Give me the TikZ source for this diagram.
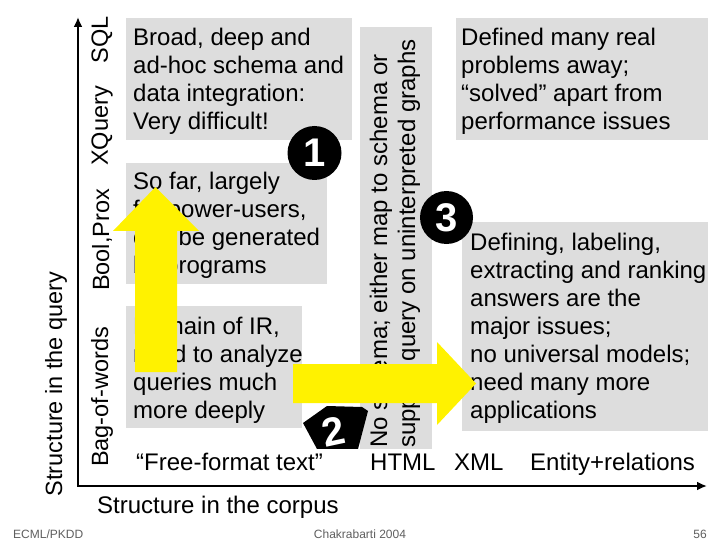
\documentclass[tikz,border=0pt]{standalone}
\usepackage{fontspec}
\setmainfont{Liberation Sans}
\usetikzlibrary{arrows.meta}
\definecolor{boxgray}{RGB}{221,221,221}
\definecolor{footgray}{RGB}{95,95,95}
\begin{document}
\begin{tikzpicture}[x=1pt,y=-1pt,
  lbl/.style={font=\fontsize{24}{28}\selectfont, inner sep=0pt},
  para/.style={lbl, align=left, anchor=base west},
  axislbl/.style={font=\fontsize{23.5}{28}\selectfont, inner sep=0pt, rotate=90},
  boxfill/.style={fill=boxgray},
  badge/.style={fill=black},
  digit/.style={font=\fontsize{40}{40}\selectfont\bfseries, text=white, inner sep=0pt},
  bigarrow/.style={fill=yellow},
  foot/.style={font=\fontsize{12}{14}\selectfont, text=footgray, inner sep=0pt}]
\useasboundingbox[fill=white] (0,0) rectangle (720,540);

% grey boxes
\fill[boxfill] (126,18) rectangle (352,140);
\fill[boxfill] (126,163) rectangle (327,284);
\fill[boxfill] (126,306) rectangle (302,428);
\fill[boxfill] (360,27) rectangle (432,449);
\fill[boxfill] (456,18) rectangle (708,140);
\fill[boxfill] (462,222) rectangle (708,431);

% axes
\coordinate (O) at (78,486);
\coordinate (ytip) at (78,17);
\coordinate (xtip) at (707,486);
\draw[line width=2pt, {Latex[length=10pt,width=9pt]}-{Latex[length=10pt,width=9pt]}] (ytip) -- (O) -- (xtip);

% axis labels
\node[axislbl] (qlabel) at (56,384) {Structure in the query};
\node[axislbl] (bow) at (102,397) {Bag-of-words};
\node[axislbl] (bool) at (102,240) {Bool,Prox};
\node[axislbl] (xq) at (102,126) {XQuery};
\node[axislbl] (sql) at (102,40) {SQL};
\node[lbl, anchor=base west] (clabel) at (97,513) {Structure in the corpus};
\node[lbl, anchor=base west] (free) at (136,470) {“Free-format text”};
\node[lbl, anchor=base west] (html) at (370,470) {HTML};
\node[lbl, anchor=base west] (xml) at (454,470) {XML};
\node[lbl, anchor=base west] (er) at (530,470) {Entity+relations};

% box texts (anchor base = baseline of the last line)
\node[para] (t1) at (133,130) {Broad, deep and\\ad-hoc schema and\\data integration:\\Very difficult!};
\node[para] (t2) at (133,273) {So far, largely\\for power-users,\\can be generated\\by programs};
\node[para] (t3) at (133,418) {Domain of IR,\\need to analyze\\queries much\\more deeply};
\node[para] (t5) at (461,130) {Defined many real\\problems away;\\“solved” apart from\\performance issues};
\node[para] (t6) at (470,418) {Defining, labeling,\\extracting and ranking\\answers are the\\major issues;\\no universal models;\\need many more\\applications};
\node[lbl, rotate=90, anchor=base west] (t4a) at (387,448) {No schema; either map to schema or};
\node[lbl, rotate=90, anchor=base west] (t4b) at (415,448) {support query on uninterpreted graphs};

% badges
\fill[badge] (314.5,153) circle (27);
\node[digit] (one) at (315,153) {1};
\fill[badge] (446.5,217.5) circle (26.5);
\node[digit] (three) at (446.5,217.5) {3};
\begin{scope}
  \clip (290,395) rectangle (380,448.5);
  \fill[badge] (303,423) -- (327,406) -- (362,407) -- (368,411) -- (358,449) -- (317,449) -- cycle;
  \node[digit, rotate=12] (two) at (333,432) {2};
\end{scope}

% yellow arrows
\fill[bigarrow] (135,372) -- (135,231) -- (113,231) -- (155.5,187) -- (199,231) -- (177,231) -- (177,372) -- cycle;
\fill[bigarrow] (293,364) -- (437,364) -- (437,342) -- (476,383.5) -- (437,425) -- (437,403) -- (293,403) -- cycle;

% footer
\node[foot, anchor=base west] (fl) at (13,538) {ECML/PKDD};
\node[foot, anchor=base] (fc) at (360,538) {Chakrabarti 2004};
\node[foot, anchor=base east] (fr) at (707,538) {56};
\end{tikzpicture}
\end{document}
